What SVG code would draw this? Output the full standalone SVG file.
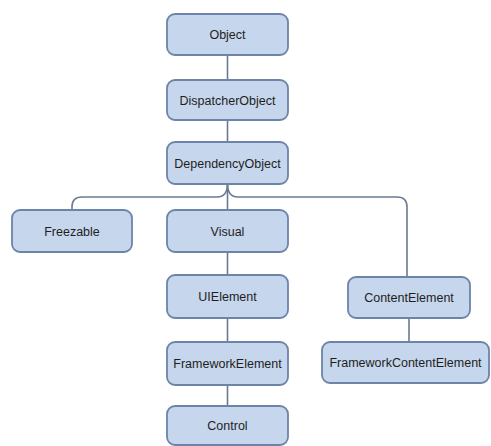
<svg xmlns="http://www.w3.org/2000/svg" width="491" height="446" viewBox="0 0 491 446">
<style>
.b{fill:#c6d6ec;stroke:#6d84a8;stroke-width:1.8}
.t{font-family:"Liberation Sans",Arial,sans-serif;font-size:12.5px;fill:#1e1e1e;text-anchor:middle}
.c{fill:none;stroke:#6a7a92;stroke-width:1.6}
</style>
<rect width="491" height="446" fill="#ffffff"/>
<g id="connectors">
<line class="c" x1="227.5" y1="55" x2="227.5" y2="80"/>
<line class="c" x1="227.5" y1="120" x2="227.5" y2="142"/>
<line class="c" x1="227.5" y1="184" x2="227.5" y2="210"/>
<path class="c" d="M227.5 184 Q227.5 197 217 197 L82 197 Q72 197 72 207 L72 210"/>
<path class="c" d="M227.5 184 Q227.5 197 238 197 L397 197 Q407 197 407 207 L407 277"/>
<line class="c" x1="227.5" y1="252" x2="227.5" y2="275"/>
<line class="c" x1="227.5" y1="318" x2="227.5" y2="342"/>
<line class="c" x1="227.5" y1="385" x2="227.5" y2="406"/>
<line class="c" x1="409" y1="318" x2="409" y2="342"/>
</g>
<g id="Object"><rect class="b" x="167" y="14" width="121" height="41" rx="8"/><text class="t" x="227.5" y="39">Object</text></g>
<g id="DispatcherObject"><rect class="b" x="167" y="80" width="121" height="40" rx="8"/><text class="t" x="227.5" y="104.5">DispatcherObject</text></g>
<g id="DependencyObject"><rect class="b" x="167" y="142" width="121" height="42" rx="8"/><text class="t" x="227.5" y="167.5">DependencyObject</text></g>
<g id="Freezable"><rect class="b" x="12" y="210" width="120" height="42" rx="8"/><text class="t" x="72" y="235.5">Freezable</text></g>
<g id="Visual"><rect class="b" x="167" y="210" width="121" height="42" rx="8"/><text class="t" x="227.5" y="235.5">Visual</text></g>
<g id="UIElement"><rect class="b" x="167" y="275" width="121" height="43" rx="8"/><text class="t" x="227.5" y="301">UIElement</text></g>
<g id="FrameworkElement"><rect class="b" x="167" y="342" width="121" height="43" rx="8"/><text class="t" x="227.5" y="368">FrameworkElement</text></g>
<g id="Control"><rect class="b" x="167" y="406" width="121" height="39" rx="8"/><text class="t" x="227.5" y="430">Control</text></g>
<g id="ContentElement"><rect class="b" x="348" y="277" width="122" height="41" rx="8"/><text class="t" x="409" y="302">ContentElement</text></g>
<g id="FrameworkContentElement"><rect class="b" x="322" y="342" width="167" height="41" rx="8"/><text class="t" x="405.5" y="367">FrameworkContentElement</text></g>
</svg>
